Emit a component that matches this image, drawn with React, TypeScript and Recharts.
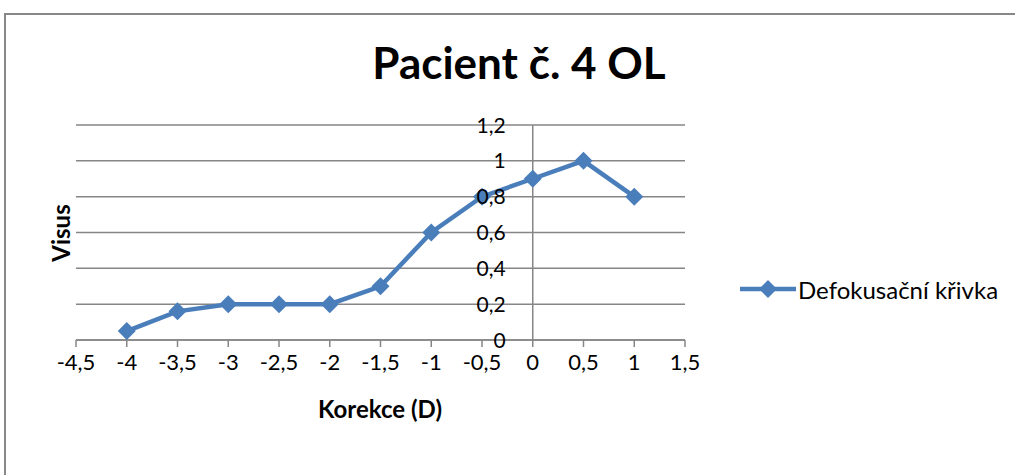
import { LineChart, Line, XAxis, YAxis, CartesianGrid, ReferenceLine } from "recharts";

const korekce = [-4, -3.5, -3, -2.5, -2, -1.5, -1, -0.5, 0, 0.5, 1];
const visus = [0.05, 0.16, 0.2, 0.2, 0.2, 0.3, 0.6, 0.8, 0.9, 1.0, 0.8];
const xTicks = [-4.5, -4, -3.5, -3, -2.5, -2, -1.5, -1, -0.5, 0, 0.5, 1, 1.5];
const yTicks = [0, 0.2, 0.4, 0.6, 0.8, 1, 1.2];
const seriesName = "Defokusační křivka";
const title = "Pacient č. 4 OL";

const data = korekce.map((x, i) => ({ x, y: visus[i] }));

const W = 1015;
const H = 475;
const PLOT_LEFT = 76;
const PLOT_RIGHT = 685;
const PLOT_TOP = 125;
const PLOT_BOTTOM = 340;
const X_MIN = -4.5;
const X_MAX = 1.5;
const BLUE = "#4A7EBB";
const GRID = "#868686";
const FONT = "Lato, 'Open Sans', sans-serif";

// the value axis crosses the category axis at x = 0
const Y_AXIS_X = PLOT_LEFT + ((PLOT_RIGHT - PLOT_LEFT) * (0 - X_MIN)) / (X_MAX - X_MIN);

const fmt = (v: number) => String(v).replace(".", ",");

const renderYTick = (props: any) => {
  const { y, payload, index } = props;
  return (
    <text key={index} x={Y_AXIS_X - 27} y={y - 1} textAnchor="end" dominantBaseline="central" fontSize={21} fill="#000" fontFamily={FONT}>
      {fmt(payload.value)}
    </text>
  );
};

const Diamond = (props: any) => {
  const { cx, cy, index } = props;
  const r = 9;
  return <polygon key={index} points={`${cx},${cy - r} ${cx + r},${cy} ${cx},${cy + r} ${cx - r},${cy}`} fill={BLUE} />;
};

export default function App() {
  return (
    <div style={{ position: "absolute", left: 0, top: 0, width: W, height: H, overflow: "hidden", background: "#fff", fontFamily: FONT }}>
      <div style={{ position: "absolute", left: 4, top: 13, width: 1040, height: 520, border: "2px solid #888" }} />
      <div style={{ position: "absolute", left: 0, top: 36, width: 1038, textAlign: "center", fontSize: 44, fontWeight: 700, color: "#000" }}>
        {title}
      </div>
      <div
        style={{
          position: "absolute",
          left: 60,
          top: 233,
          transform: "translate(-50%, -50%) rotate(-90deg)",
          fontSize: 24,
          fontWeight: 700,
          color: "#000",
          whiteSpace: "nowrap",
        }}
      >
        Visus
      </div>
      <div style={{ position: "absolute", left: 380, top: 408, transform: "translate(-50%, -50%)", fontSize: 24, fontWeight: 700, color: "#000", whiteSpace: "nowrap" }}>
        Korekce (D)
      </div>
      <div style={{ position: "absolute", left: 740, top: 274, display: "flex", alignItems: "center", fontSize: 24, color: "#000" }}>
        <svg width={56} height={30}>
          <line x1={0} y1={15} x2={56} y2={15} stroke={BLUE} strokeWidth={4.5} />
          <polygon points="28,6 37,15 28,24 19,15" fill={BLUE} />
        </svg>
        <span style={{ marginLeft: 2 }}>{seriesName}</span>
      </div>
      <div style={{ position: "absolute", left: 0, top: 0 }}>
        <LineChart
          width={W}
          height={H}
          data={data}
          margin={{ top: PLOT_TOP, right: W - PLOT_RIGHT, bottom: 0, left: PLOT_LEFT - 1 }}
        >
          <CartesianGrid vertical={false} stroke={GRID} strokeWidth={1.5} />
          <XAxis
            type="number"
            dataKey="x"
            domain={[X_MIN, X_MAX]}
            ticks={xTicks}
            interval={0}
            height={H - PLOT_BOTTOM}
            tickFormatter={fmt}
            axisLine={{ stroke: GRID, strokeWidth: 1.5 }}
            tickLine={{ stroke: GRID, strokeWidth: 1.5 }}
            tickSize={7}
            tick={{ fontSize: 22, fill: "#000", fontFamily: FONT, dy: 5 }}
          />
          <YAxis
            type="number"
            domain={[0, 1.2]}
            ticks={yTicks}
            interval={0}
            width={1}
            axisLine={false}
            tickLine={false}
            tick={renderYTick}
          />
          <ReferenceLine x={0} stroke={GRID} strokeWidth={1.5} />
          <Line
            type="linear"
            dataKey="y"
            name={seriesName}
            stroke={BLUE}
            strokeWidth={4.5}
            dot={<Diamond />}
            activeDot={false}
            isAnimationActive={false}
          />
        </LineChart>
      </div>
    </div>
  );
}
